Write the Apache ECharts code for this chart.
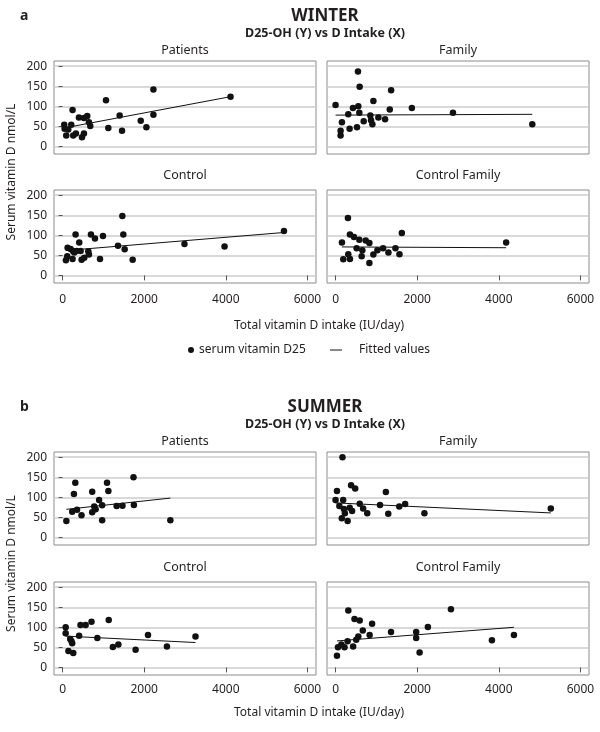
<!DOCTYPE html>
<html><head><meta charset="utf-8">
<script src="https://cdn.jsdelivr.net/npm/echarts@6/dist/echarts.min.js"></script>
<style>html,body{margin:0;padding:0;background:#fff}#c{width:600px;height:732px}</style>
</head><body><div id="c"></div><script>
const FONT = '"Noto Sans", "DejaVu Sans", sans-serif';
const xTicks = [0, 2000, 4000, 6000];
const yTicks = [0, 50, 100, 150, 200];
const panelNames = ['Patients', 'Family', 'Control', 'Control Family'];
const seasons = ['WINTER', 'SUMMER'];
const seasonLetters = ['a', 'b'];
const subtitle = 'D25-OH (Y) vs D Intake (X)';
const xTitle = 'Total vitamin D intake (IU/day)';
const yTitle = 'Serum vitamin D nmol/L';
const legendPoints = 'serum vitamin D25';
const legendFit = 'Fitted values';

// WINTER
const wPatientsX = [41, 49, 90, 139, 213, 245, 262, 327, 401, 475, 524, 524, 605, 646, 679, 1064, 1121, 1399, 1457, 1915, 2054, 2226, 2226, 4116];
const wPatientsY = [54, 44, 27, 42, 54, 91, 27, 32, 72, 23, 32, 71, 76, 60, 51, 115, 46, 77, 39, 64, 48, 142, 79, 124];
const wPatientsFitX = [41, 4116];
const wPatientsFitY = [46, 124];

const wFamilyX = [0, 123, 123, 156, 311, 344, 426, 525, 549, 590, 557, 582, 689, 852, 869, 902, 926, 1049, 1213, 1328, 1361, 1869, 2877, 4820];
const wFamilyY = [103, 39, 27, 60, 80, 44, 96, 48, 187, 149, 100, 84, 63, 77, 65, 55, 113, 72, 68, 92, 140, 96, 84, 55];
const wFamilyFitX = [0, 4820];
const wFamilyFitY = [78, 80];

const wControlX = [82, 115, 123, 196, 245, 254, 286, 319, 344, 409, 442, 466, 532, 630, 646, 695, 794, 917, 990, 1358, 1465, 1489, 1522, 1718, 2987, 3969, 5425];
const wControlY = [38, 48, 69, 66, 41, 61, 57, 102, 61, 82, 61, 39, 44, 60, 52, 102, 92, 41, 98, 74, 148, 102, 65, 39, 78, 72, 111];
const wControlFitX = [82, 5425];
const wControlFitY = [62, 107];

const wCtrlFamilyX = [156, 189, 303, 352, 352, 311, 451, 516, 582, 639, 656, 738, 828, 828, 926, 1025, 1164, 1295, 1467, 1566, 1623, 4180];
const wCtrlFamilyY = [82, 40, 143, 102, 41, 53, 96, 68, 89, 48, 63, 87, 81, 31, 52, 63, 68, 57, 68, 53, 106, 82];
const wCtrlFamilyFitX = [156, 4180];
const wCtrlFamilyFitY = [71, 69];

// SUMMER
const sPatientsX = [93, 312, 278, 354, 236, 464, 726, 1089, 1122, 895, 776, 810, 726, 970, 970, 1325, 1468, 1738, 1747, 2641];
const sPatientsY = [41, 136, 108, 69, 64, 55, 114, 136, 116, 93, 77, 70, 63, 80, 43, 78, 79, 150, 81, 43];
const sPatientsFitX = [93, 2641];
const sPatientsFitY = [70, 98];

const sFamilyX = [169, 34, 0, 186, 380, 481, 93, 203, 346, 405, 228, 152, 295, 591, 675, 776, 1089, 1232, 1291, 1561, 1705, 2177, 5274];
const sFamilyY = [200, 116, 93, 93, 130, 122, 78, 71, 74, 66, 60, 48, 41, 84, 72, 60, 81, 113, 59, 77, 83, 60, 72];
const sFamilyFitX = [0, 5274];
const sFamilyFitY = [86, 61];

const sControlX = [76, 76, 186, 236, 219, 143, 262, 405, 439, 565, 709, 852, 1131, 1232, 1367, 1789, 2093, 2557, 3257];
const sControlY = [100, 85, 71, 60, 65, 41, 36, 79, 106, 106, 114, 73, 118, 51, 57, 44, 81, 52, 77];
const sControlFitX = [76, 3257];
const sControlFitY = [78, 62];

const sCtrlFamilyX = [34, 59, 219, 143, 295, 430, 506, 557, 312, 464, 591, 667, 835, 895, 1359, 1975, 1975, 2059, 2262, 2827, 3831, 4371];
const sCtrlFamilyY = [29, 50, 50, 57, 65, 52, 69, 77, 142, 121, 117, 92, 81, 109, 88, 88, 73, 37, 101, 145, 68, 81];
const sCtrlFamilyFitX = [34, 4371];
const sCtrlFamilyFitY = [66, 100];

const panels = [
  {s: 0, r: 0, c: 0, x: wPatientsX, y: wPatientsY, fx: wPatientsFitX, fy: wPatientsFitY},
  {s: 0, r: 0, c: 1, x: wFamilyX, y: wFamilyY, fx: wFamilyFitX, fy: wFamilyFitY},
  {s: 0, r: 1, c: 0, x: wControlX, y: wControlY, fx: wControlFitX, fy: wControlFitY},
  {s: 0, r: 1, c: 1, x: wCtrlFamilyX, y: wCtrlFamilyY, fx: wCtrlFamilyFitX, fy: wCtrlFamilyFitY},
  {s: 1, r: 0, c: 0, x: sPatientsX, y: sPatientsY, fx: sPatientsFitX, fy: sPatientsFitY},
  {s: 1, r: 0, c: 1, x: sFamilyX, y: sFamilyY, fx: sFamilyFitX, fy: sFamilyFitY},
  {s: 1, r: 1, c: 0, x: sControlX, y: sControlY, fx: sControlFitX, fy: sControlFitY},
  {s: 1, r: 1, c: 1, x: sCtrlFamilyX, y: sCtrlFamilyY, fx: sCtrlFamilyFitX, fy: sCtrlFamilyFitY}
];

// layout
const colLeft = [54, 327];
const gridW = 262;
const gridH = 93;
const rowTop = [[61, 190], [452, 582]];
const labelMargin = [11, 9];
const xTitleGap = [43, 38];
const TXT = '#231f20';

const grids = [], xAxes = [], yAxes = [], series = [], graphics = [];
panels.forEach((p, i) => {
  const top = rowTop[p.s][p.r];
  grids.push({left: colLeft[p.c], top: top, width: gridW, height: gridH, show: true,
    borderColor: '#8c8c8c', borderWidth: 1, backgroundColor: '#fff', containLabel: false});
  const bottomRow = p.r === 1;
  const leftCol = p.c === 0;
  xAxes.push({type: 'value', gridIndex: i, min: -210, max: 6210,
    axisLine: {show: false},
    axisTick: {show: bottomRow, customValues: xTicks, length: 5, lineStyle: {color: '#555', width: 1}},
    axisLabel: {show: bottomRow, customValues: xTicks, margin: labelMargin[p.s], fontSize: 12, color: TXT, fontFamily: FONT,
      formatter: v => String(v)},
    splitLine: {show: false}});
  yAxes.push({type: 'value', gridIndex: i, min: -19, max: 213,
    axisLine: {show: false},
    axisTick: {show: leftCol, customValues: yTicks, length: 4, lineStyle: {color: '#555', width: 1}},
    axisLabel: {show: leftCol, customValues: yTicks, margin: 7, fontSize: 12, color: TXT, fontFamily: FONT,
      formatter: v => String(v)},
    splitLine: {show: true, lineStyle: {color: '#cccccc', width: 1.5}}});
  series.push({type: 'scatter', name: legendPoints, xAxisIndex: i, yAxisIndex: i,
    data: p.x.map((v, k) => [v, p.y[k]]), symbol: 'circle', symbolSize: 6.5,
    itemStyle: {color: '#111', opacity: 1}, z: 3, silent: true});
  series.push({type: 'line', name: legendFit, xAxisIndex: i, yAxisIndex: i,
    data: p.fx.map((v, k) => [v, p.fy[k]]), showSymbol: false, symbol: 'none',
    lineStyle: {color: '#111', width: 1}, itemStyle: {color: '#111'}, z: 2, silent: true});
  graphics.push({type: 'text', x: colLeft[p.c] + gridW / 2, y: top - (p.r === 0 ? 10.5 : 14.5),
    style: {text: panelNames[p.r * 2 + p.c], font: '12.5px ' + FONT, fill: TXT, textAlign: 'center', textVerticalAlign: 'middle'}});
});

[0, 1].forEach(s => {
  const t0 = rowTop[s][0];
  const b1 = rowTop[s][1] + gridH;
  graphics.push({type: 'text', x: 20, y: t0 - 45, style: {text: seasonLetters[s], font: 'bold 14px ' + FONT, fill: TXT, textAlign: 'left', textVerticalAlign: 'middle'}});
  graphics.push({type: 'text', x: 325, y: t0 - 45, style: {text: seasons[s], font: 'bold 17px ' + FONT, fill: TXT, textAlign: 'center', textVerticalAlign: 'middle'}});
  graphics.push({type: 'text', x: 325, y: t0 - 28, style: {text: subtitle, font: 'bold 12.5px ' + FONT, fill: TXT, textAlign: 'center', textVerticalAlign: 'middle'}});
  graphics.push({type: 'text', x: 319, y: b1 + xTitleGap[s], style: {text: xTitle, font: '12px ' + FONT, fill: TXT, textAlign: 'center', textVerticalAlign: 'middle'}});
  graphics.push({type: 'text', x: 12, y: (t0 + b1) / 2, rotation: Math.PI / 2, style: {text: yTitle, font: '12px ' + FONT, fill: TXT, textAlign: 'center', textVerticalAlign: 'middle'}});
});

const chart = echarts.init(document.getElementById('c'), null, {renderer: 'canvas'});
chart.setOption({
  animation: false,
  backgroundColor: '#fff',
  grid: grids,
  xAxis: xAxes,
  yAxis: yAxes,
  series: series,
  legend: [
    {data: [{name: legendPoints, icon: 'circle'}], left: 188, top: 344, padding: 0, itemWidth: 6, itemHeight: 6,
      textStyle: {fontSize: 12, color: TXT, fontFamily: FONT}, selectedMode: false},
    {data: [{name: legendFit, icon: 'rect'}], left: 330, top: 344, padding: 0, itemWidth: 12, itemHeight: 1,
      textStyle: {fontSize: 12, color: TXT, fontFamily: FONT, padding: [0, 0, 0, 12]}, selectedMode: false}
  ],
  graphic: graphics
});
</script></body></html>
